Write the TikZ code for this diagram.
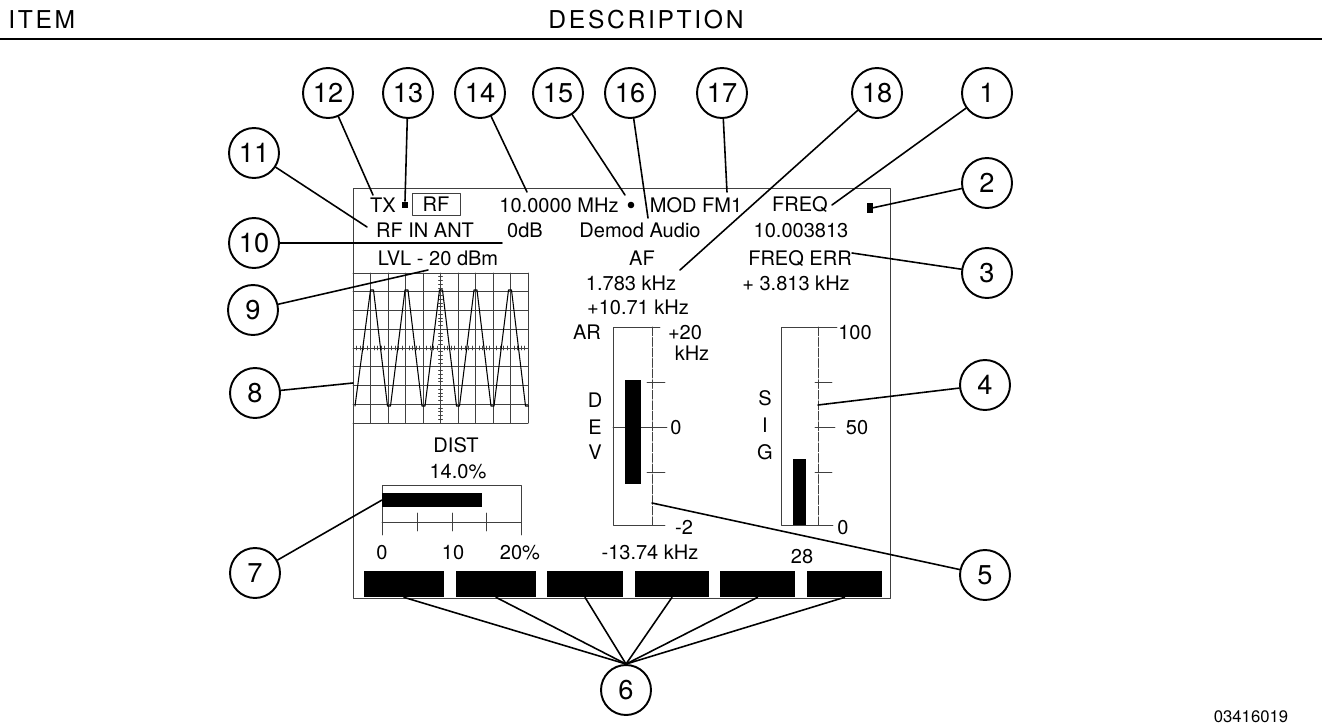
\documentclass[tikz,border=0pt]{standalone}
\usepackage{fontspec}
\setmainfont{TeX Gyre Heros}

\begin{document}
\begin{tikzpicture}[x=0.02cm,y=-0.02cm,line cap=round,line join=round,
  callout/.style={circle,draw,line width=1.1pt,minimum size=1cm,inner sep=0pt,font=\fontsize{15.5}{15.5}\selectfont},
  leader/.style={line width=0.9pt},
  lcd/.style={anchor=base,inner sep=0pt,font=\fontsize{11.4}{12}\selectfont},
  scr/.style={line width=0.5pt,black!75},
  softkey/.style={fill=black,inner sep=0pt,minimum height=0.52cm}]
  \useasboundingbox (0,0) rectangle (1322,727);
  \node[anchor=base west,inner sep=0pt,font=\fontsize{14}{14}\selectfont\addfontfeature{LetterSpace=11}] (item) at (8,28) {ITEM};
  \node[anchor=base,inner sep=0pt,font=\fontsize{14}{14}\selectfont\addfontfeature{LetterSpace=11}] (desc) at (646,28) {DESCRIPTION};
  \draw[line width=1.2pt] (0,39) -- (1322,39);
  \draw[scr] (353,188) rectangle (890,598);
  \node[lcd] (tx) at (383,212) {TX};
  \fill (402,202) rectangle (408,208);
  \node[draw,scr,text=black,inner sep=0pt,minimum width=0.96cm,minimum height=0.44cm,font=\fontsize{11.4}{12}\selectfont] (rf) at (436,204) {RF};
  \node[lcd] (mhz) at (559,212) {10.0000 MHz};
  \fill (631,205) circle (3.3);
  \node[lcd] (mod) at (696,212) {MOD FM1};
  \node[lcd] (freq) at (800,211) {FREQ};
  \fill (867,203) rectangle (873,213);
  \node[lcd] (rfin) at (425,237) {RF IN ANT};
  \node[lcd] (zerodb) at (525,237) {0dB};
  \node[lcd] (demod) at (640,237) {Demod Audio};
  \node[lcd] (freqval) at (801,237) {10.003813};
  \node[lcd] (lvl) at (438,265) {LVL - 20 dBm};
  \node[lcd] (af) at (642,265) {AF};
  \node[lcd] (freqerr) at (800,265) {FREQ ERR};
  \node[lcd] (afval) at (631,290) {1.783 kHz};
  \node[lcd] (errval) at (796,290) {+ 3.813 kHz};
  \node[lcd] (devval) at (638,314) {+10.71 kHz};
  \node[lcd] (ar) at (587,339) {AR};
  \node[lcd] (devtop) at (685,339) {+20};
  \node[lcd] (devunit) at (692,360) {kHz};
  \node[lcd] (sigtop) at (855,339) {100};
  \node[lcd] (devd) at (595,407) {D};
  \node[lcd] (deve) at (595,434) {E};
  \node[lcd] (devv) at (595,459) {V};
  \node[lcd] (devmid) at (676,434) {0};
  \node[lcd] (devbot) at (684,534) {-2};
  \node[lcd] (sigs) at (765,405) {S};
  \node[lcd] (sigi) at (765,432) {I};
  \node[lcd] (sigg) at (765,459) {G};
  \node[lcd] (sigmid) at (857,434) {50};
  \node[lcd] (sigbot) at (843,534) {0};
  \node[lcd] (sigval) at (802,563) {28};
  \node[lcd] (devneg) at (650,559) {-13.74 kHz};
  \node[lcd] (dist) at (456,452) {DIST};
  \node[lcd] (distval) at (458,478) {14.0\%};
  \node[lcd] (dist0) at (382,559) {0};
  \node[lcd] (dist10) at (453,559) {10};
  \node[lcd] (dist20) at (520,559) {20\%};
  \foreach \i in {0,...,10}
    \draw[scr] ({353+17.5*\i},273) -- ({353+17.5*\i},423);
  \foreach \j in {0,...,8}
    \draw[scr] (353,{273+18.75*\j}) -- (528,{273+18.75*\j});
  \foreach \k in {1,...,39}
    \draw[scr] (438.5,{273+3.75*\k}) -- (442.5,{273+3.75*\k});
  \foreach \k in {1,...,49}
    \draw[scr] ({353+3.5*\k},346) -- ({353+3.5*\k},350);
  \draw[line width=0.6pt] (355,406) \foreach \p in {0,...,4} {
    -- ({370.5+34.5*\p},290) -- ({373.5+34.5*\p},290)
    -- ({387.5+34.5*\p},406) -- ({390.5+34.5*\p},406)};
  \draw[scr] (382,535) -- (382,485) -- (521,485) -- (521,535);
  \draw[scr] (382,522) -- (521,522);
  \foreach \x in {417,452,486}
    \draw[scr] (\x,513) -- (\x,531);
  \fill (382,493) rectangle (482,507);
  \draw[scr] (660,327) -- (613,327) -- (613,525) -- (665,525);
  \draw[scr,dash pattern=on 5pt off 1pt] (652,327) -- (652,525);
  \draw[scr] (613,427) -- (667,427);
  \draw[scr] (647,382) -- (665,382);
  \draw[scr] (647,472) -- (665,472);
  \fill (625,380) rectangle (641,484);
  \draw[scr] (837,327) -- (781,327) -- (781,525) -- (833,525);
  \draw[scr,dash pattern=on 5pt off 1pt] (818,327) -- (818,525);
  \draw[scr] (815,382) -- (832,382);
  \draw[scr] (815,427) -- (835,427);
  \draw[scr] (815,472) -- (832,472);
  \fill (793,459) rectangle (806,525);
  \foreach \n/\cx/\w in {1/404/80,2/496/80,3/585/76,4/672/74,5/757.5/75,6/844.5/75}
    \node[softkey,minimum width=\w*0.02cm] (k\n) at (\cx,584) {};
  \foreach \n/\cx/\cy in {1/987/93,2/987/183,3/987/273,4/985/385,5/985/575,6/626/690,
      7/255/573,8/255/393,9/253/310,10/254/243,11/254/153,12/328/93,
      13/408/93,14/480/93,15/558/93,16/630/93,17/722/93,18/877/93}
    \node[callout] (c\n) at (\cx,\cy) {\n};
  \coordinate (freqend) at (832,205);
  \coordinate (sqend) at (872,208);
  \coordinate (errend) at (852,253);
  \coordinate (sigend) at (818,405);
  \coordinate (devend) at (652,503);
  \coordinate (distend) at (382,500);
  \coordinate (scopeend) at (353,383);
  \coordinate (lvlend) at (428,270);
  \coordinate (antend) at (502,243);
  \coordinate (rfinend) at (367,227);
  \coordinate (txend) at (373,195);
  \coordinate (dashend) at (405,201);
  \coordinate (mhzend) at (527,192);
  \coordinate (dotend) at (625,195);
  \coordinate (demodend) at (648,218);
  \coordinate (modend) at (727,192);
  \coordinate (afend) at (680,270);
  \foreach \n/\e in {1/freqend,2/sqend,3/errend,4/sigend,5/devend,7/distend,
      8/scopeend,9/lvlend,11/rfinend,12/txend,13/dashend,14/mhzend,
      15/dotend,16/demodend,17/modend,18/afend}
    \draw[leader] (c\n) -- (\e);
  \draw[leader] (c10.east) -- (antend);
  \foreach \n in {1,...,6}
    \draw[leader] (c6.north) -- (k\n.south);
  \node[anchor=base,inner sep=0pt,font=\fontsize{9.5}{10}\selectfont] (figid) at (1251,722) {03416019};
\end{tikzpicture}
\end{document}
